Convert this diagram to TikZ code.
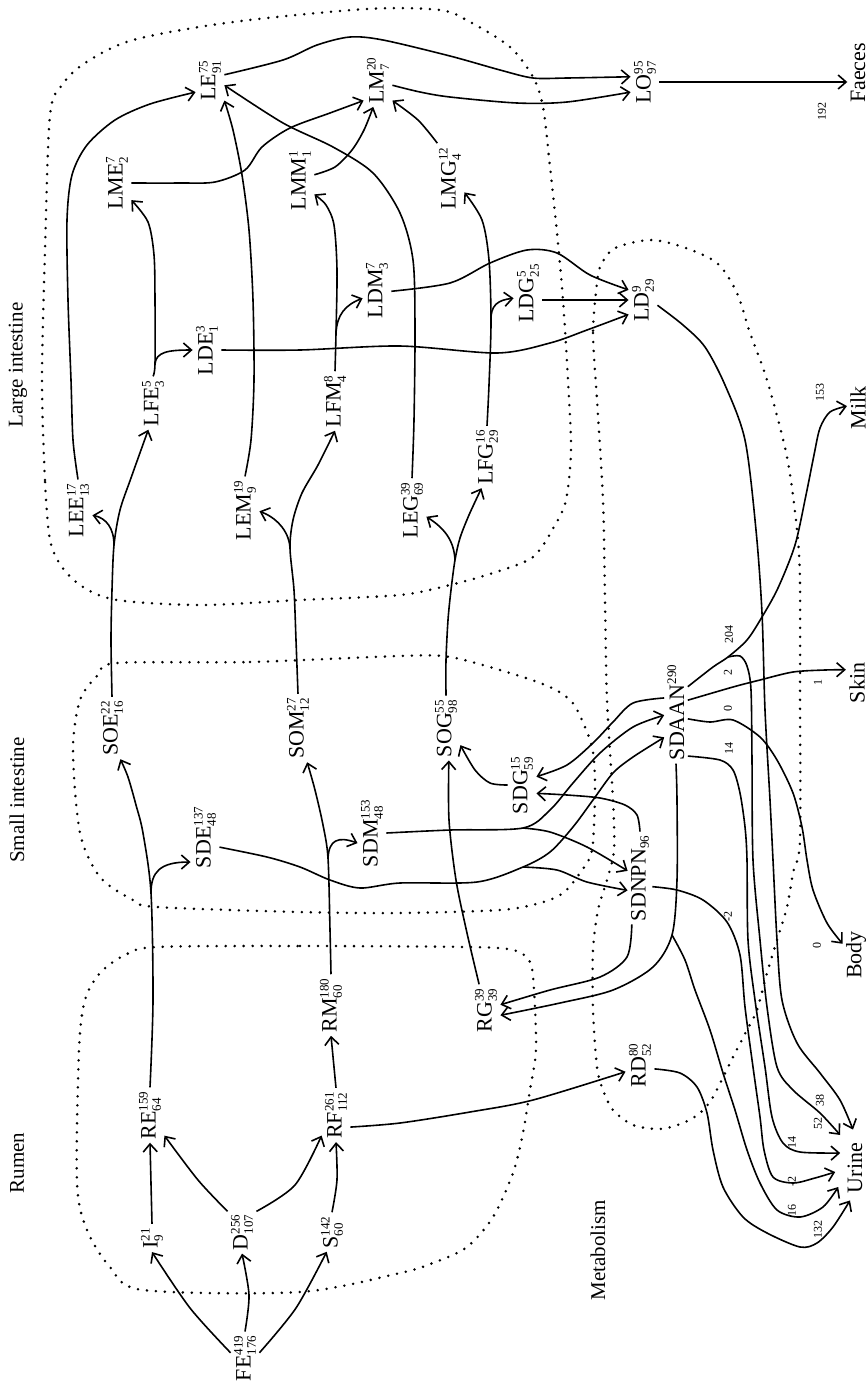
\documentclass[tikz,border=0pt]{standalone}
\usepackage{fontspec}
\setmainfont{Liberation Serif}
\usetikzlibrary{arrows.meta,calc}
\newcommand{\sx}[1]{\hbox{\fontsize{6.5}{7}\selectfont #1}}
\newcommand{\ml}[3]{#1$^{\sx{#2}}_{\sx{#3}}$}
\newcommand{\mlsup}[2]{#1$^{\sx{#2}}$}
\newcommand{\mlsub}[2]{#1$_{\sx{#2}}$}
\begin{document}
\begin{tikzpicture}[x=0.5pt,y=-0.5pt,
  lab/.style={rotate=90, inner sep=1.5pt, font=\fontsize{11}{13}\selectfont},
  sec/.style={rotate=90, inner sep=0pt, font=\fontsize{10.5}{12}\selectfont},
  num/.style={rotate=90, inner sep=0pt, font=\fontsize{6}{7}\selectfont},
  arr/.style={line width=0.8pt, -{Straight Barb[length=4pt,width=7pt]}},
  bound/.style={line width=1.4pt, dash pattern=on 0pt off 4.5pt, line cap=round}]
\fill[white] (0,0) rectangle (868,1383);
\path[use as bounding box] (0,0) rectangle (868,1383);

% ---------- boundaries ----------
\draw[bound] plot[smooth cycle, tension=0.5] coordinates {(50,540) (45,480) (42,380) (45,250) (50,115) (62,85) (85,63) (133,40) (233,22) (367,9) (440,10) (470,22) (510,47) (533,77) (543,107) (550,167) (557,233) (563,300) (568,380) (571,450) (566,500) (555,525) (533,557) (493,573) (450,585) (400,595) (300,600) (200,605) (117,600) (83,587) (62,567)};
\draw[bound] plot[smooth cycle, tension=0.5] coordinates {(117,663) (250,662) (400,656) (450,657) (510,673) (550,687) (572,702) (585,727) (593,752) (595,790) (592,850) (580,873) (563,893) (540,903) (500,910) (400,913) (300,912) (157,907) (133,900) (100,877) (80,833) (73,750) (80,700) (98,675)};
\draw[bound] plot[smooth cycle, tension=0.5] coordinates {(157,947) (300,946) (467,947) (513,950) (530,962) (534,990) (536,1050) (530,1090) (523,1133) (513,1173) (493,1217) (467,1247) (433,1263) (400,1273) (300,1292) (143,1290) (110,1267) (87,1230) (77,1183) (79,1050) (85,1000) (100,973) (125,955)};
\draw[bound] plot[smooth cycle, tension=0.5] coordinates {(597,283) (593,333) (597,400) (603,500) (605,600) (607,700) (613,800) (614,850) (607,880) (598,910) (593,950) (593,1010) (597,1067) (603,1090) (613,1110) (633,1125) (660,1129) (683,1123) (700,1113) (713,1097) (733,1057) (747,1030) (757,1010) (767,973) (777,940) (787,907) (793,873) (800,840) (800,700) (800,583) (797,530) (787,457) (767,380) (750,333) (737,293) (717,263) (683,247) (650,240) (615,248) (601,265)};

% ---------- section labels ----------
\node[sec] (tLarge) at (18,365) {Large intestine};
\node[sec] (tSmall) at (17,800) {Small intestine};
\node[sec] (tRumen) at (17,1163) {Rumen};
\node[sec] (tMeta) at (598,1250) {Metabolism};

% ---------- nodes ----------
\node[lab] (FE) at (245,1358) {\ml{FE}{419}{176}};
\node[lab] (I) at (152,1238) {\ml{I}{21}{9}};
\node[lab] (D) at (242,1232) {\ml{D}{256}{107}};
\node[lab] (S) at (332,1232) {\ml{S}{142}{60}};
\node[lab] (RE) at (150,1115) {\ml{RE}{159}{64}};
\node[lab] (RF) at (336,1115) {\ml{RF}{261}{112}};
\node[lab] (RM) at (331,1005) {\ml{RM}{180}{60}};
\node[lab] (SDE) at (205,837) {\ml{SDE}{137}{48}};
\node[lab] (SOE) at (112,728) {\ml{SOE}{22}{16}};
\node[lab] (SOM) at (298,728) {\ml{SOM}{27}{12}};
\node[lab] (SDM) at (372,833) {\ml{SDM}{153}{48}};
\node[lab] (SOG) at (446,728) {\ml{SOG}{55}{98}};
\node[lab] (SDG) at (522,785) {\ml{SDG}{15}{59}};
\node[lab] (SDNPN) at (640,878) {\mlsub{SDNPN}{96}};
\node[lab] (SDAAN) at (676,712) {\mlsup{SDAAN}{290}};
\node[lab] (RG) at (486,1010) {\ml{RG}{39}{39}};
\node[lab] (RD) at (640,1065) {\ml{RD}{80}{52}};
\node[lab] (LEE) at (78,510) {\ml{LEE}{17}{13}};
\node[lab] (LFE) at (153,403) {\ml{LFE}{5}{3}};
\node[lab] (LEM) at (245,510) {\ml{LEM}{19}{9}};
\node[lab] (LFM) at (335,401) {\ml{LFM}{8}{4}};
\node[lab] (LEG) at (412,510) {\ml{LEG}{39}{69}};
\node[lab] (LFG) at (487,457) {\ml{LFG}{16}{29}};
\node[lab] (LDE) at (207,350) {\ml{LDE}{3}{1}};
\node[lab] (LDM) at (377,290) {\ml{LDM}{7}{3}};
\node[lab] (LDG) at (528,293) {\ml{LDG}{5}{25}};
\node[lab] (LD) at (643,300) {\ml{LD}{9}{29}};
\node[lab] (LME) at (117,183) {\ml{LME}{7}{2}};
\node[lab] (LMM) at (300,180) {\ml{LMM}{1}{1}};
\node[lab] (LMG) at (450,178) {\ml{LMG}{12}{4}};
\node[lab] (LE) at (210,80) {\ml{LE}{75}{91}};
\node[lab] (LM) at (378,80) {\ml{LM}{20}{7}};
\node[lab] (LO) at (645,82) {\ml{LO}{95}{97}};
\node[lab] (Faeces) at (858,73) {Faeces};
\node[lab] (Milk) at (858,408) {Milk};
\node[lab] (Skin) at (857,683) {Skin};
\node[lab] (Body) at (856,955) {Body};
\node[lab] (Urine) at (855,1168) {Urine};

% ---------- flow numbers ----------
\node[num] (n192) at (822,111) {192};
\node[num] (n153) at (820,392) {153};
\node[num] (n204) at (729,634) {204};
\node[num] (n2) at (728,672) {2};
\node[num] (n0a) at (728,708) {0};
\node[num] (n14a) at (729,748) {14};
\node[num] (n1) at (818,682) {1};
\node[num] (n0b) at (817,945) {0};
\node[num] (nm2a) at (728,916) {-2};
\node[num] (n38) at (820,1100) {38};
\node[num] (n52) at (818,1123) {52};
\node[num] (n14b) at (792,1142) {14};
\node[num] (nm2b) at (792,1181) {-2};
\node[num] (n16) at (792,1210) {16};
\node[num] (n132) at (818,1229) {132};

% ---------- rumen ----------
\draw[arr] plot[smooth] coordinates {(FE.70) (190,1308) (I.west)};
\draw[arr] plot[smooth] coordinates {(FE.east) (249,1295) (D.west)};
\draw[arr] plot[smooth] coordinates {(FE.290) (296,1308) (S.165)};
\draw[arr] (I.east) -- (RE.west);
\draw[arr] plot[smooth] coordinates {(D.35) (198,1180) (RE.215)};
\draw[arr] plot[smooth] coordinates {(D.325) (295,1185) (RF.145)};
\draw[arr] plot[smooth] coordinates {(S.east) (337,1180) (RF.west)};
\draw[arr] (RF.east) -- (RM.west);
\draw[arr] plot[smooth] coordinates {(RF.230) (400,1123) (470,1112) (533,1100) (RD.115)};
\draw[arr] plot[smooth] coordinates {(RD.255) (680,1073) (697,1087) (707,1113) (713,1150) (723,1187) (743,1217) (767,1233) (800,1247) (817,1243) (833,1227) ($(Urine.west)+(-5,4)$)};

% ---------- rumen to small intestine ----------
\coordinate (bRE) at (151,893);
\draw[arr] plot[smooth] coordinates {(RE.east) (153,1000) (bRE) (143,833) (136,805) (128,777) (SOE.195)};
\draw[arr] (bRE) .. controls (151,872) and (160,862) .. (SDE.150);
\coordinate (bRM) at (328,858);
\draw[arr] plot[smooth] coordinates {(RM.east) (330,930) (bRM) (323,825) (315,790) (SOM.195)};
\draw[arr] (bRM) .. controls (329,840) and (338,836) .. (SDM.125);

% ---------- small intestine to large ----------
\coordinate (bSOE) at (114,545);
\draw[arr] plot[smooth] coordinates {(SOE.east) (111,640) (112,590) (bSOE) (120,510) (131,478) (LFE.170)};
\draw[arr] (bSOE) .. controls (114,528) and (106,518) .. (LEE.250);
\coordinate (bSOM) at (290,548);
\draw[arr] plot[smooth] coordinates {(SOM.east) (296,640) (294,590) (bSOM) (293,520) (302,493) (318,465) (LFM.west)};
\draw[arr] (bSOM) .. controls (289,530) and (275,517) .. (LEM.265);
\coordinate (bSOG) at (455,560);
\draw[arr] plot[smooth] coordinates {(SOG.east) (446,660) (448,620) (451,590) (bSOG) (460,538) (469,515) (LFG.170)};
\draw[arr] (bSOG) .. controls (454,540) and (444,528) .. (LEG.245);
\draw[arr] plot[smooth] coordinates {(RG.15) (467,933) (456,880) (449,820) (SOG.185)};
\draw[arr] plot[smooth] coordinates {(SDG.north) (490,783) (475,770) (SOG.220)};

% ---------- large intestine ----------
\draw[arr] plot[smooth] coordinates {(LEE.east) (73,440) (71,380) (68,300) (67,220) (72,175) (87,145) (115,120) (150,104) (LE.130)};
\coordinate (bLFE) at (155,364);
\draw[arr] plot[smooth] coordinates {(LFE.east) (bLFE) (155,300) (154,255) (148,222) (LME.220)};
\draw[arr] (bLFE) .. controls (156,352) and (168,350) .. (LDE.north);
\draw[arr] plot[smooth] coordinates {(LEM.east) (251,440) (254,380) (253,300) (249,230) (242,175) (233,130) (LE.215)};
\coordinate (bLFM) at (336,333);
\draw[arr] plot[smooth] coordinates {(LFM.east) (bLFM) (337,270) (334,225) (326,205) (LMM.225)};
\draw[arr] (bLFM) .. controls (337,315) and (345,305) .. (LDM.120);
\draw[arr] plot[smooth] coordinates {(LEG.east) (414,420) (415,330) (413,260) (400,213) (373,173) (333,147) (283,123) (LE.250)};
\coordinate (bLFG) at (491,322);
\draw[arr] plot[smooth] coordinates {(LFG.east) (489,385) (bLFG) (489,260) (482,220) (LMG.225)};
\draw[arr] (bLFG) .. controls (490,305) and (498,300) .. (LDG.110);
\draw[arr] plot[smooth] coordinates {(LME.south) (180,183) (215,182) (245,170) (262,147) (290,128) (330,113) (LM.145)};
\draw[arr] plot[smooth] coordinates {(LMM.290) (335,167) (352,150) (364,130) (LM.170)};
\draw[arr] plot[smooth] coordinates {(LMG.20) (418,120) (LM.215)};
\draw[arr] plot[smooth] coordinates {(LE.290) (283,60) (317,45) (350,37) (383,40) (450,56) (500,70) (533,78) (567,78) (LO.70)};
\draw[arr] plot[smooth] coordinates {(LM.250) (420,92) (450,97) (517,103) (567,102) (LO.125)};
\draw[arr] (LO.south) -- (LO.south -| Faeces.north);
\draw[arr] plot[smooth] coordinates {(LDE.south) (300,350) (400,346) (497,353) (550,343) (587,330) (LD.135)};
\draw[arr] plot[smooth] coordinates {(LDM.265) (450,283) (490,263) (527,250) (557,253) (590,275) (LD.55)};
\draw[arr] (LD.north -| LDG.south) -- (LD.north);
\draw[arr] plot[smooth] coordinates {(LD.250) (683,325) (705,347) (725,385) (745,440) (756,530) (762,613) (765,710) (770,800) (773,860) (777,940) (782,1000) (797,1043) (820,1073) (840,1100) ($(Urine.east)+(-2,-10)$)};

% ---------- metabolism ----------
\draw[arr] plot[smooth] coordinates {(SDAAN.40) (633,703) (613,722) (593,743) (567,765) (SDG.300)};
\coordinate (bSDM) at (523,828);
\draw[arr] plot[smooth] coordinates {(SDM.south) (450,830) (bSDM) (550,810) (573,783) (600,753) (633,727) (SDAAN.105)};
\draw[arr] plot[smooth] coordinates {(bSDM) (550,832) (587,847) (SDNPN.60)};
\coordinate (bSDE) at (523,867);
\draw[arr] plot[smooth] coordinates {(SDE.235) (267,857) (300,867) (330,880) (360,888) (400,883) (477,882) (bSDE) (550,852) (573,827) (593,800) (613,773) (633,757) (SDAAN.155)};
\draw[arr] plot[smooth] coordinates {(bSDE) (557,870) (587,882) (SDNPN.135)};
\draw[arr] plot[smooth] coordinates {(SDNPN.east) (637,815) (625,805) (600,798) (567,795) (SDG.240)};
\draw[arr] plot[smooth] coordinates {(SDNPN.170) (627,957) (600,977) (550,990) (RG.290)};
\coordinate (bSDA) at (672,935);
\draw[arr] plot[smooth] coordinates {(SDAAN.west) (677,800) (677,880) (bSDA) (653,967) (613,990) (560,1003) (RG.250)};
\draw[arr] plot[smooth] coordinates {(bSDA) (685,960) (695,990) (710,1030) (723,1073) (735,1110) (747,1150) (760,1183) (777,1210) (800,1217) (823,1207) ($(Urine.north)+(-6,19)$)};
\draw[arr] plot[smooth] coordinates {(SDNPN.235) (677,890) (703,900) (727,922) (740,955) (745,1007) (753,1067) (760,1117) (764,1150) (773,1177) (793,1183) (815,1178) ($(Urine.north)+(-9,4)$)};
\coordinate (bMilk) at (728,657);
\draw[arr] plot[smooth] coordinates {(SDAAN.335) (713,667) (bMilk) (747,640) (762,617) (778,588) (795,545) (806,495) (814,455) (820,428) (830,412) (Milk.80)};
\draw[arr] plot[smooth] coordinates {(bMilk) (740,656) (747,666) (751,690) (752,760) (753,860) (760,940) (767,1007) (777,1067) (793,1090) (820,1113) ($(Urine.north)+(-4,-33)$)};
\draw[arr] plot[smooth] coordinates {(SDAAN.315) (733,687) (760,680) (793,672) (825,670) (Skin.40)};
\draw[arr] plot[smooth] coordinates {(SDAAN.240) (710,722) (733,720) (760,737) (777,760) (793,793) (802,827) (807,860) (813,890) (827,923) (Body.50)};
\draw[arr] plot[smooth] coordinates {(SDAAN.195) (720,760) (733,770) (740,793) (745,827) (747,860) (748,940) (755,1000) (765,1067) (772,1117) (783,1143) (800,1152) ($(Urine.north)+(-4,-15)$)};
\end{tikzpicture}
\end{document}
